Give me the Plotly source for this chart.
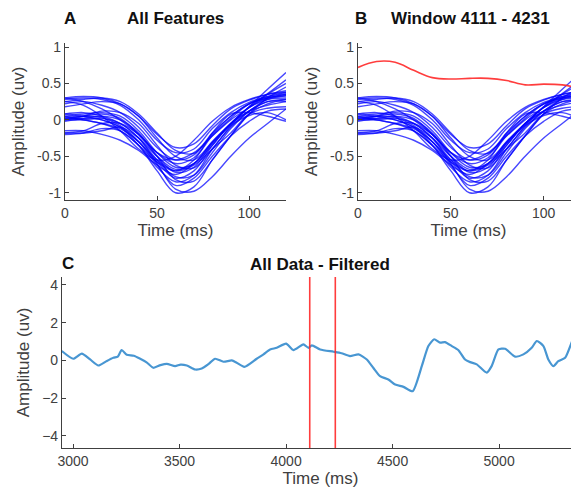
import plotly.graph_objects as go

# ---------------- data ----------------
feature_time_ms = [0, 10, 20, 30, 40, 50, 60, 70, 80, 90, 100, 110, 120]

feature_01 = [0.30, 0.32, 0.30, 0.22, 0.05, -0.20, -0.38, -0.33, -0.08, 0.15, 0.27, 0.35, 0.40]
feature_02 = [0.28, 0.30, 0.28, 0.20, 0.00, -0.28, -0.45, -0.40, -0.12, 0.10, 0.24, 0.32, 0.36]
feature_03 = [0.25, 0.28, 0.30, 0.25, 0.08, -0.18, -0.42, -0.46, -0.20, 0.05, 0.22, 0.30, 0.33]
feature_04 = [0.22, 0.25, 0.20, 0.10, -0.10, -0.38, -0.55, -0.48, -0.18, 0.05, 0.22, 0.30, 0.35]
feature_05 = [0.18, 0.22, 0.25, 0.22, 0.05, -0.25, -0.50, -0.55, -0.30, -0.05, 0.18, 0.36, 0.55]
feature_06 = [0.30, 0.25, 0.15, 0.00, -0.20, -0.45, -0.60, -0.52, -0.22, 0.02, 0.22, 0.32, 0.38]
feature_07 = [0.05, 0.08, 0.10, 0.05, -0.15, -0.45, -0.65, -0.60, -0.30, -0.05, 0.17, 0.30, 0.35]
feature_08 = [0.02, 0.05, 0.08, 0.02, -0.20, -0.50, -0.72, -0.65, -0.32, -0.05, 0.17, 0.28, 0.30]
feature_09 = [0.00, 0.02, 0.00, -0.10, -0.30, -0.58, -0.80, -0.70, -0.35, -0.06, 0.12, 0.25, 0.28]
feature_10 = [0.08, 0.10, 0.05, -0.05, -0.25, -0.55, -0.78, -0.76, -0.45, -0.12, 0.12, 0.28, 0.33]
feature_11 = [0.00, 0.05, 0.12, 0.10, -0.05, -0.35, -0.62, -0.66, -0.40, -0.08, 0.18, 0.42, 0.65]
feature_12 = [0.05, 0.00, -0.05, -0.15, -0.35, -0.65, -0.85, -0.76, -0.40, -0.10, 0.12, 0.25, 0.25]
feature_13 = [-0.02, 0.02, 0.05, 0.00, -0.18, -0.50, -0.82, -0.84, -0.55, -0.22, 0.08, 0.30, 0.45]
feature_14 = [0.03, 0.05, 0.03, -0.08, -0.30, -0.62, -0.90, -0.80, -0.50, -0.22, -0.02, 0.12, 0.15]
feature_15 = [0.00, 0.00, 0.02, -0.05, -0.25, -0.60, -0.95, -0.98, -0.78, -0.50, -0.25, -0.05, 0.15]
feature_16 = [0.08, 0.05, 0.00, -0.10, -0.35, -0.70, -1.00, -0.92, -0.55, -0.22, 0.08, 0.22, 0.28]
feature_17 = [0.02, 0.00, -0.05, -0.12, -0.30, -0.55, -0.70, -0.62, -0.40, -0.18, 0.08, 0.16, 0.18]
feature_18 = [-0.18, -0.18, -0.15, -0.10, -0.25, -0.50, -0.68, -0.60, -0.35, -0.05, 0.12, 0.20, 0.25]
feature_19 = [-0.15, -0.15, -0.20, -0.28, -0.42, -0.62, -0.75, -0.60, -0.32, -0.08, 0.06, 0.10, 0.00]
feature_20 = [-0.20, -0.18, -0.12, -0.15, -0.35, -0.58, -0.70, -0.55, -0.18, 0.08, 0.10, 0.05, -0.02]
feature_21 = [-0.18, -0.15, -0.05, -0.05, -0.20, -0.45, -0.55, -0.45, -0.22, 0.00, 0.17, 0.35, 0.50]
feature_22 = [0.25, 0.20, 0.05, -0.15, -0.40, -0.55, -0.50, -0.28, -0.02, 0.17, 0.28, 0.35, 0.38]

features = [feature_01, feature_02, feature_03, feature_04, feature_05, feature_06,
            feature_07, feature_08, feature_09, feature_10, feature_11, feature_12,
            feature_13, feature_14, feature_15, feature_16, feature_17, feature_18,
            feature_19, feature_20, feature_21, feature_22]

window_trace = [0.72, 0.80, 0.79, 0.68, 0.58, 0.56, 0.57, 0.57, 0.54, 0.48, 0.49, 0.48, 0.43]

filtered_time_ms = [2947, 3001, 3041, 3080, 3119, 3155, 3189, 3210, 3228, 3252, 3285, 3315,
                    3345, 3377, 3410, 3440, 3479, 3505, 3534, 3573, 3604, 3635, 3667, 3706,
                    3745, 3768, 3804, 3862, 3894, 3925, 3956, 4000, 4034, 4081, 4105, 4121,
                    4160, 4223, 4260, 4300, 4340, 4379, 4410, 4441, 4480, 4512, 4551, 4594,
                    4637, 4668, 4695, 4723, 4746, 4778, 4808, 4840, 4864, 4895, 4942, 4965,
                    4997, 5028, 5075, 5114, 5153, 5177, 5208, 5231, 5255, 5278, 5310, 5349,
                    5373]
filtered_amp = [0.50, 0.09, 0.36, 0.05, -0.27, -0.05, 0.14, 0.20, 0.55, 0.30, 0.25, 0.09,
                -0.10, -0.39, -0.25, -0.18, -0.30, -0.22, -0.27, -0.48, -0.43, -0.20, 0.09,
                -0.07, 0.00, -0.12, -0.34, 0.09, 0.32, 0.58, 0.67, 0.89, 0.55, 0.85, 0.67,
                0.80, 0.58, 0.46, 0.38, 0.23, 0.32, 0.05, -0.40, -0.83, -1.01, -1.28, -1.40,
                -1.63, -0.30, 0.76, 1.12, 0.94, 0.97, 0.76, 0.55, 0.05, -0.09, -0.21, -0.65,
                -0.30, 0.58, 0.62, 0.20, 0.32, 0.67, 1.03, 0.76, 0.05, -0.30, -0.04, 0.14,
                1.20, 1.69]

window_start_ms = 4111
window_end_ms = 4231

y_ticks_small = [-1, -0.5, 0, 0.5, 1]
y_tick_text_small = ["-1", "-0.5", "0", "0.5", "1"]
x_ticks_small = [0, 50, 100]
x_ticks_long = [3000, 3500, 4000, 4500, 5000]
y_ticks_long = [-4, -2, 0, 2, 4]

# ---------------- figure ----------------
PAGE_OFF = 8            # default body margin of the html page
W, H = 579 - PAGE_OFF, 500 - PAGE_OFF
AX = "#404040"
FONT = "Liberation Sans, Arial, sans-serif"

fig = go.Figure()

for f in features:
    for ax in ("x", "x2"):
        fig.add_trace(go.Scatter(x=feature_time_ms, y=f, mode="lines",
                                 line=dict(color="rgba(0,0,255,0.72)", width=1.4, shape="spline", smoothing=1.0),
                                 xaxis=ax, yaxis=ax.replace("x", "y"), showlegend=False, hoverinfo="skip"))

fig.add_trace(go.Scatter(x=feature_time_ms, y=window_trace, mode="lines",
                         line=dict(color="rgba(255,40,40,0.9)", width=1.6, shape="spline", smoothing=1.0),
                         xaxis="x2", yaxis="y2", showlegend=False))

fig.add_trace(go.Scatter(x=filtered_time_ms, y=filtered_amp, mode="lines",
                         line=dict(color="#4896d2", width=2.2, shape="spline", smoothing=0.6),
                         xaxis="x3", yaxis="y3", showlegend=False))

for xv in (window_start_ms, window_end_ms):
    fig.add_trace(go.Scatter(x=[xv, xv], y=[-4.64, 4.42], mode="lines",
                             line=dict(color="rgba(255,40,40,0.9)", width=1.6),
                             xaxis="x3", yaxis="y3", showlegend=False))

def px(v):
    return min(max((v - PAGE_OFF) / W, 0), 1)

def py(v):
    return min(max(1 - (v - PAGE_OFF) / H, 0), 1)

common_axis = dict(showline=True, linecolor=AX, linewidth=1.2, ticks="inside", ticklen=4,
                   tickcolor=AX, showgrid=False, zeroline=False, mirror=False, automargin=False,
                   tickfont=dict(family=FONT, size=14, color=AX),
                   title_font=dict(family=FONT, size=17, color=AX))

fig.update_layout(
    width=W, height=H, margin=dict(l=0, r=0, t=0, b=0),
    paper_bgcolor="white", plot_bgcolor="white",
    xaxis=dict(domain=[px(65), px(286)], range=[0, 120], tickvals=x_ticks_small,
               anchor="y", title=dict(text="Time (ms)", standoff=4), **common_axis),
    yaxis=dict(domain=[py(200), py(43)], range=[-1.1, 1.055], tickvals=y_ticks_small,
               ticktext=y_tick_text_small, anchor="x",
               title=dict(text="Amplitude (uv)", standoff=8), **common_axis),
    xaxis2=dict(domain=[px(358), 1], range=[0, 119], tickvals=x_ticks_small,
                anchor="y2", title=dict(text="Time (ms)", standoff=4), **common_axis),
    yaxis2=dict(domain=[py(200), py(43)], range=[-1.1, 1.055], tickvals=y_ticks_small,
                ticktext=y_tick_text_small, anchor="x2",
                title=dict(text="Amplitude (uv)", standoff=8), **common_axis),
    xaxis3=dict(domain=[px(62), 1], range=[2948, 5375], tickvals=x_ticks_long,
                anchor="y3", title=dict(text="Time (ms)", standoff=4), **common_axis),
    yaxis3=dict(domain=[py(448), py(277)], range=[-4.64, 4.42], tickvals=y_ticks_long,
                anchor="x3", title=dict(text="Amplitude (uv)", standoff=8), **common_axis),
)

title_font = dict(family=FONT, size=17, color="#111111")
letter_font = dict(family="Liberation Sans, Arial, sans-serif", size=17, color="#111111")
top_annos = [
    dict(text="<b>A</b>", x=px(70), font=letter_font),
    dict(text="<b>All Features</b>", x=px(175), font=title_font),
    dict(text="<b>B</b>", x=px(361), font=letter_font),
    dict(text="<b>Window 4111 - 4231</b>", x=px(470), font=title_font),
]
for a in top_annos:
    fig.add_annotation(xref="paper", yref="paper", showarrow=False, y=1.0,
                       xanchor="center", yanchor="top", borderpad=0, **a)

mid_annos = [
    dict(text="<b>C</b>", x=px(68), y=py(263), font=letter_font),
    dict(text="<b>All Data - Filtered</b>", x=px(320), y=py(264), font=title_font),
]
for a in mid_annos:
    fig.add_annotation(xref="paper", yref="paper", showarrow=False,
                       xanchor="center", yanchor="middle", **a)

fig.write_html("out.html")
